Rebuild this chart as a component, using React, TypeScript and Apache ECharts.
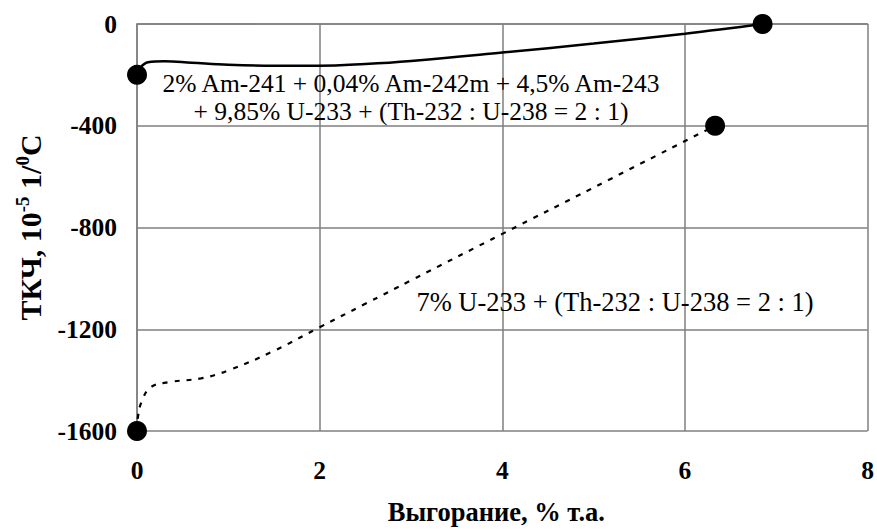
import React, { useEffect, useRef } from "react";
import * as echarts from "echarts";

const FONT = "Liberation Serif";

// Series 1: 2% Am-241 + ... (solid)
const burnupA = [0, 0.04, 0.12, 0.3, 0.6, 1, 1.5, 2, 2.5, 3, 4, 5, 6, 6.85];
const tkcA = [-200, -170, -150, -146, -152, -160, -164, -164, -157, -145, -112, -77, -38, 0];

// Series 2: 7% U-233 + ... (dashed)
const burnupB = [0, 0.01, 0.05, 0.15, 0.35, 0.7, 1, 1.5, 2, 2.5, 3, 4, 5, 6.33];
const tkcB = [-1600, -1545, -1485, -1428, -1408, -1393, -1362, -1285, -1192, -1100, -1008, -825, -643, -400];

const xTicks = [0, 2, 4, 6, 8];
const yTicks = [0, -400, -800, -1200, -1600];

const labelA = "2% Am-241 + 0,04% Am-242m + 4,5% Am-243\n+ 9,85% U-233 + (Th-232 : U-238 = 2 : 1)";
const labelB = "7% U-233 + (Th-232 : U-238 = 2 : 1)";

function toData(xs: number[], ys: number[]) {
  return xs.map((x, i) => {
    const end = i === 0 || i === xs.length - 1;
    return end
      ? { value: [x, ys[i]], symbol: "circle", symbolSize: 20 }
      : { value: [x, ys[i]], symbol: "none", symbolSize: 0 };
  });
}

export default function App() {
  const ref = useRef<HTMLDivElement>(null);
  useEffect(() => {
    document.body.style.margin = "0";
    const chart = echarts.init(ref.current!, undefined, { renderer: "svg" });
    const gridColor = "#7f7f7f";
    chart.setOption({
      animation: false,
      backgroundColor: "#ffffff",
      textStyle: { fontFamily: FONT },
      grid: { left: 137, right: 9, top: 24, bottom: 98 },
      xAxis: {
        type: "value",
        min: xTicks[0],
        max: xTicks[xTicks.length - 1],
        interval: 2,
        name: "Выгорание, % т.а.",
        nameLocation: "middle",
        nameGap: 67,
        nameTextStyle: { fontFamily: FONT, fontWeight: "bold", fontSize: 26.5, color: "#000", padding: [0, 12, 0, 0] },
        axisLine: { show: true, lineStyle: { color: gridColor, width: 1.5 } },
        axisTick: { show: false },
        axisLabel: { fontFamily: FONT, fontWeight: "bold", fontSize: 25.5, color: "#000", margin: 26, formatter: (v: number) => String(v) },
        splitLine: { show: true, lineStyle: { color: gridColor, width: 1.5 } },
      },
      yAxis: {
        type: "value",
        min: yTicks[yTicks.length - 1],
        max: yTicks[0],
        interval: 400,
        name: "{b|ТКЧ, 10}{s|-5}{b| 1/}{s|0}{b|C}",
        nameLocation: "middle",
        nameGap: 92,
        nameTextStyle: {
          fontFamily: FONT,
          color: "#000",
          padding: [0, 0, 0, 0],
          rich: {
            b: { fontFamily: FONT, fontWeight: "bold", fontSize: 30, color: "#000", lineHeight: 32, verticalAlign: "bottom" },
            s: { fontFamily: FONT, fontWeight: "bold", fontSize: 19, color: "#000", lineHeight: 32, verticalAlign: "top" },
          },
        },
        axisLine: { show: true, lineStyle: { color: gridColor, width: 1.5 } },
        axisTick: { show: false },
        axisLabel: { fontFamily: FONT, fontWeight: "bold", fontSize: 25.5, color: "#000", margin: 20, formatter: (v: number) => String(v) },
        splitLine: { show: true, lineStyle: { color: gridColor, width: 1.5 } },
      },
      series: [
        {
          type: "line",
          data: toData(burnupA, tkcA),
          smooth: 0.4,
          showSymbol: true,
          lineStyle: { color: "#000", width: 2.5 },
          itemStyle: { color: "#000" },
          z: 3,
        },
        {
          type: "line",
          data: toData(burnupB, tkcB),
          smooth: 0.4,
          showSymbol: true,
          lineStyle: { color: "#000", width: 2.2, type: [5, 7] },
          itemStyle: { color: "#000" },
          z: 3,
        },
      ],
      graphic: [
        {
          type: "text",
          x: 411,
          y: 97,
          z: 10,
          style: {
            text: labelA,
            fontFamily: FONT,
            fontSize: 25.5,
            lineHeight: 28,
            fill: "#000",
            align: "center",
            verticalAlign: "middle",
          },
        },
        {
          type: "text",
          x: 615,
          y: 302,
          z: 10,
          style: {
            text: labelB,
            fontFamily: FONT,
            fontSize: 26.5,
            fill: "#000",
            align: "center",
            verticalAlign: "middle",
          },
        },
      ],
    });
    return () => chart.dispose();
  }, []);
  return <div ref={ref} style={{ width: 877, height: 530 }} />;
}
